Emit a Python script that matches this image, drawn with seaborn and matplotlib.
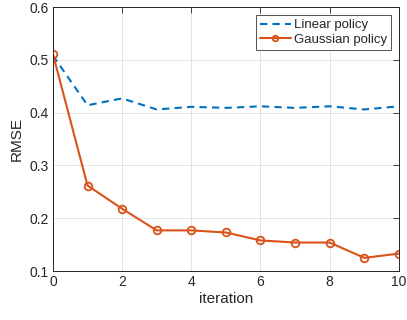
import numpy as np
import pandas as pd
import seaborn as sns
import matplotlib
matplotlib.use("Agg")
import matplotlib.pyplot as plt

iterations = [0, 1, 2, 3, 4, 5, 6, 7, 8, 9, 10]
linear_rmse = [0.508, 0.414, 0.427, 0.406, 0.411, 0.409, 0.412, 0.409, 0.412, 0.406, 0.412]
gaussian_rmse = [0.511, 0.262, 0.218, 0.177, 0.177, 0.173, 0.158, 0.154, 0.154, 0.125, 0.133]

sns.set_theme(style="whitegrid")
plt.rcParams['font.family'] = ['Liberation Sans', 'DejaVu Sans']

df = pd.DataFrame({"iteration": iterations, "Linear policy": linear_rmse,
                   "Gaussian policy": gaussian_rmse})

fig = plt.figure(figsize=(4.07, 3.2), dpi=100)
ax = fig.add_axes([0.130, 0.153, 0.850, 0.825])

sns.lineplot(data=df, x="iteration", y="Linear policy", ax=ax, color="#0072BD",
             linestyle=(0, (3.5, 2.5)), linewidth=1.5, label="Linear policy")
sns.lineplot(data=df, x="iteration", y="Gaussian policy", ax=ax, color="#D95319",
             linewidth=1.5, marker="o", markersize=5.5, markerfacecolor="none",
             markeredgecolor="#D95319", markeredgewidth=1.3, label="Gaussian policy")

ax.set_xlim(0, 10)
ax.set_ylim(0.1, 0.6)
ax.set_xticks([0, 2, 4, 6, 8, 10])
ax.set_yticks([0.1, 0.2, 0.3, 0.4, 0.5, 0.6])
ax.set_xlabel("iteration", fontsize=11, color="#262626", labelpad=2)
ax.set_ylabel("RMSE", fontsize=11, color="#262626", labelpad=4)
ax.tick_params(axis="both", labelsize=10, colors="#262626", direction="in",
               length=4, width=0.6, top=True, right=True, pad=3)
ax.grid(True, color="#dfdfdf", linewidth=0.6)
for s in ax.spines.values():
    s.set_color("#262626")
    s.set_linewidth(0.7)
    s.set_visible(True)

leg = ax.legend(loc="upper right", fontsize=9.5, frameon=True, fancybox=False,
                edgecolor="#262626", handlelength=2.4, handletextpad=0.2,
                borderpad=0.3, labelspacing=0.2, borderaxespad=0.6)
leg.get_frame().set_linewidth(0.7)
for h in leg.legend_handles:
    h.set_markersize(4)

fig.savefig("out.png", dpi=100)
